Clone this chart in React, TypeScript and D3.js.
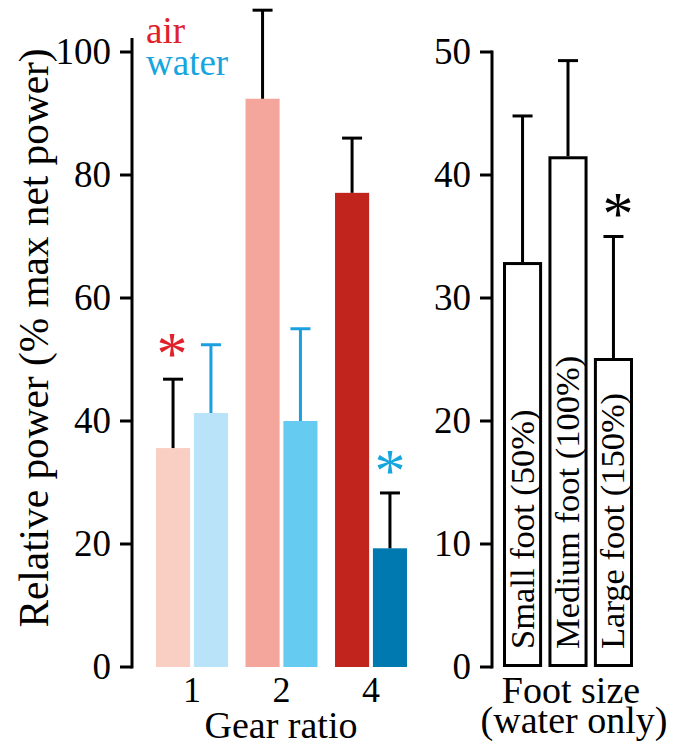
import React from "react";
import * as d3 from "d3";

const gearRatios = ["1", "2", "4"];
const media = ["air", "water"];
const airMeans = [35.6, 92.4, 77.1];
const airSD = [11.2, 14.4, 8.9];
const waterMeans = [41.3, 40.0, 19.3];
const waterSD = [11.1, 15.0, 9.0];
const airColors = ["#f9cfc4", "#f4a59c", "#c0241c"];
const waterColors = ["#b8e3f8", "#66cbf1", "#0078b0"];
const waterErrColors = ["#1a9fe0", "#1a9fe0", "#000000"];
const leftTicks = [0, 20, 40, 60, 80, 100];

const footSizes = ["Small foot (50%)", "Medium foot (100%)", "Large foot (150%)"];
const footMeans = [32.8, 41.4, 25.0];
const footSD = [12.0, 7.9, 10.0];
const rightTicks = [0, 10, 20, 30, 40, 50];

const FONT = "Liberation Serif, DejaVu Serif, serif";

export default function App() {
  const W = 686, H = 747;
  const yL = d3.scaleLinear().domain([0, 100]).range([667, 52]);
  const yR = d3.scaleLinear().domain([0, 50]).range([667, 52]);
  const xG = d3.scaleBand<string>().domain(gearRatios).range([156, 407]).paddingInner(0.196).paddingOuter(0);
  const xM = d3.scaleBand<string>().domain(media).range([0, xG.bandwidth()]).paddingInner(0.1);
  const xF = d3.scaleBand<string>().domain(footSizes).range([503, 633]).paddingInner(0.14).paddingOuter(0);

  const axisL = 132;
  const axisR = 492;
  const cap = 20;

  const errBar = (cx: number, y0: number, y1: number, color: string, key: string) => (
    <g key={key} stroke={color} strokeWidth={3}>
      <line x1={cx} x2={cx} y1={y0} y2={y1} />
      <line x1={cx - cap / 2} x2={cx + cap / 2} y1={y1} y2={y1} />
    </g>
  );

  const ts = { fontFamily: FONT };

  return (
    <svg width={W} height={H} style={{ position: "absolute", left: 0, top: 0, background: "#fff", fontFamily: FONT }}>
      {gearRatios.map((g, i) => {
        const gx = xG(g)!;
        const ax = gx + xM("air")!;
        const wx = gx + xM("water")!;
        const bw = xM.bandwidth();
        return (
          <g key={g}>
            <rect x={ax} width={bw} y={yL(airMeans[i])} height={yL(0) - yL(airMeans[i])} fill={airColors[i]} />
            <rect x={wx} width={bw} y={yL(waterMeans[i])} height={yL(0) - yL(waterMeans[i])} fill={waterColors[i]} />
            {errBar(ax + bw / 2, yL(airMeans[i]), yL(airMeans[i] + airSD[i]), "#000", "ea" + g)}
            {errBar(wx + bw / 2, yL(waterMeans[i]), yL(waterMeans[i] + waterSD[i]), waterErrColors[i], "ew" + g)}
            <text style={ts} x={gx + xG.bandwidth() / 2} y={702} textAnchor="middle" fontSize={36}>{g}</text>
          </g>
        );
      })}
      <line x1={axisL} x2={axisL} y1={38} y2={yL(0) + 1.5} stroke="#000" strokeWidth={3} />
      {leftTicks.map((t) => (
        <g key={t}>
          <line x1={axisL - 12} x2={axisL} y1={yL(t)} y2={yL(t)} stroke="#000" strokeWidth={3} />
          <text style={ts} x={axisL - 21} y={yL(t) + 12} textAnchor="end" fontSize={37}>{t}</text>
        </g>
      ))}
      <text style={ts} transform={`translate(48, 338) rotate(-90)`} textAnchor="middle" fontSize={41.3}>Relative power (% max net power)</text>
      <text style={ts} x={146} y={43} fontSize={37} fill="#e0202a">air</text>
      <text style={ts} x={146} y={75} fontSize={37} fill="#16a5dd">water</text>
      <text style={ts} x={281} y={738} textAnchor="middle" fontSize={38}>Gear ratio</text>

      <text style={ts} x={172} y={374} textAnchor="middle" fontSize={62} fill="#e0202a">*</text>
      <text style={ts} x={390} y={491} textAnchor="middle" fontSize={62} fill="#16a5dd">*</text>

      {footSizes.map((f, i) => {
        const fx = xF(f)!;
        const bw = xF.bandwidth();
        const cx = fx + bw / 2;
        return (
          <g key={f}>
            <rect x={fx + 1.5} width={bw - 3} y={yR(footMeans[i])} height={yR(0) - yR(footMeans[i]) - 1.5} fill="#fff" stroke="#000" strokeWidth={3} />
            {errBar(cx, yR(footMeans[i]) - 1.5, yR(footMeans[i] + footSD[i]), "#000", "ef" + i)}
            <text style={ts} transform={`translate(${cx + 11}, 649) rotate(-90)`} fontSize={34.5}>{f}</text>
          </g>
        );
      })}
      <line x1={axisR} x2={axisR} y1={yR(50) - 1.5} y2={yR(0) + 1.5} stroke="#000" strokeWidth={3} />
      {rightTicks.map((t) => (
        <g key={t}>
          <line x1={axisR - 12} x2={axisR} y1={yR(t)} y2={yR(t)} stroke="#000" strokeWidth={3} />
          <text style={ts} x={axisR - 21} y={yR(t) + 12} textAnchor="end" fontSize={37}>{t}</text>
        </g>
      ))}
      <text style={ts} x={618} y={234} textAnchor="middle" fontSize={62} fill="#000">*</text>
      <text style={ts} x={571} y={703} textAnchor="middle" fontSize={38}>Foot size</text>
      <text style={ts} x={574} y={733} textAnchor="middle" fontSize={38}>(water only)</text>
    </svg>
  );
}
